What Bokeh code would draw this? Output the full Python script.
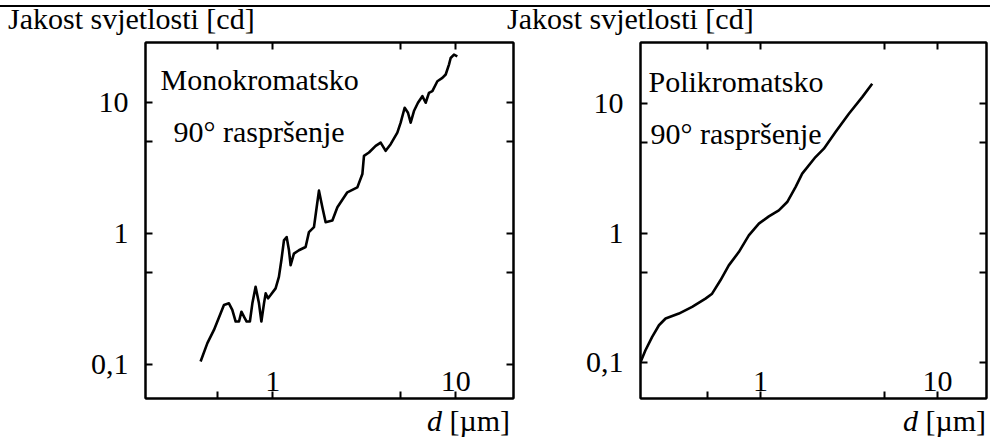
from bokeh.plotting import figure
from bokeh.models import FixedTicker, LogAxis, Label, Div
from bokeh.layouts import row, column
from bokeh.embed import file_html
from bokeh.resources import INLINE

# ---------------- data ----------------
mono_d = [0.404, 0.440, 0.478, 0.520, 0.542, 0.577, 0.602, 0.628, 0.655, 0.675,
          0.697, 0.721, 0.751, 0.775, 0.807, 0.842, 0.868, 0.897, 0.916, 0.943,
          0.975, 1.038, 1.082, 1.116, 1.153, 1.193, 1.228, 1.254, 1.307, 1.392,
          1.514, 1.579, 1.682, 1.740, 1.791, 1.869, 1.948, 2.120, 2.258, 2.559,
          2.903, 3.092, 3.155, 3.360, 3.655, 3.892, 4.145, 4.414, 4.801, 5.006,
          5.264, 5.488, 5.677, 5.917, 6.223, 6.577, 6.857, 7.146, 7.460, 7.943,
          8.460, 8.820, 9.192, 9.391, 9.788, 10.21]
mono_I = [0.105, 0.145, 0.183, 0.245, 0.284, 0.292, 0.260, 0.212, 0.212, 0.252,
          0.231, 0.212, 0.212, 0.292, 0.391, 0.292, 0.212, 0.292, 0.348, 0.319,
          0.338, 0.380, 0.465, 0.623, 0.885, 0.937, 0.743, 0.571, 0.701, 0.743,
          0.787, 1.023, 1.117, 1.585, 2.123, 1.585, 1.219, 1.255, 1.585, 2.061,
          2.249, 2.844, 3.920, 4.152, 4.670, 4.947, 4.278, 4.810, 5.892, 7.022,
          9.130, 8.365, 7.022, 8.616, 9.970, 11.20, 9.970, 11.87, 12.23, 14.57,
          15.44, 16.39, 19.52, 21.92, 23.26, 22.58]

poly_d = [0.210, 0.224, 0.244, 0.267, 0.291, 0.346, 0.411, 0.489, 0.533, 0.594,
          0.662, 0.754, 0.859, 0.979, 1.115, 1.269, 1.415, 1.577, 1.720, 2.045,
          2.280, 2.653, 3.156, 3.753, 4.274]
poly_I = [0.101, 0.125, 0.158, 0.195, 0.220, 0.240, 0.270, 0.313, 0.342, 0.434,
          0.566, 0.717, 0.965, 1.188, 1.353, 1.505, 1.745, 2.278, 2.891, 3.884,
          4.508, 6.056, 8.400, 11.28, 14.32]

y_ticks = [0.1, 0.5, 1, 5, 10]
y_labels = {0.1: "0,1", 0.5: "", 1: "1", 5: "", 10: "10"}
x_ticks = [0.5, 1, 5, 10]
x_tick_labels = ["1", "10"]
x_tick_label_pos = [1, 10]

y_title = "Jakost svjetlosti [cd]"
x_title_html = "<i>d</i> [µm]"
panel_titles = [("Monokromatsko", "90° raspršenje"), ("Polikromatsko", "90° raspršenje")]

FONT = "Liberation Serif"
FS = "30px"


def make_panel(xd, yd, lines, width, height, bl, br, bt, bb, xr, yr, text_x):
    p = figure(width=width, height=height, x_axis_type="log", y_axis_type="log",
               x_range=xr, y_range=yr,
               output_backend="svg", toolbar_location=None,
               min_border_left=bl, min_border_right=br, min_border_top=bt,
               min_border_bottom=bb)
    p.grid.visible = False
    p.outline_line_color = "black"
    p.outline_line_width = 2
    p.background_fill_color = "white"
    p.border_fill_color = "white"

    p.add_layout(LogAxis(), "right")
    p.add_layout(LogAxis(), "above")

    for ax in p.yaxis:
        ax.ticker = FixedTicker(ticks=y_ticks, minor_ticks=[])
    for ax in p.xaxis:
        ax.ticker = FixedTicker(ticks=x_ticks, minor_ticks=[])
    for ax in list(p.xaxis) + list(p.yaxis):
        ax.axis_line_width = 2
        ax.major_tick_in = 7
        ax.major_tick_out = 0
        ax.minor_tick_in = 0
        ax.minor_tick_out = 0
        ax.major_tick_line_width = 2
        ax.major_label_text_font_size = "0px"
        ax.major_label_standoff = 0
        ax.major_label_text_color = None

    ya = p.yaxis[0]
    ya.major_label_overrides = y_labels
    ya.major_label_text_font = FONT
    ya.major_label_text_font_size = FS
    ya.major_label_text_color = "black"
    ya.major_label_standoff = 17

    p.line(xd, yd, line_color="black", line_width=2.6, line_join="round")

    fh = height - bt - bb
    for lab, pos in zip(x_tick_labels, x_tick_label_pos):
        p.add_layout(Label(x=pos, y=17, x_units="data", y_units="screen",
                           text=lab, text_font=FONT, text_font_size=FS,
                           text_align="center", text_baseline="alphabetic",
                           text_color="black"))
    p.add_layout(Label(x=text_x[0], y=fh - 39, x_units="screen", y_units="screen",
                       text=lines[0], text_font=FONT, text_font_size=FS,
                       text_baseline="alphabetic", text_color="black"))
    p.add_layout(Label(x=text_x[1], y=fh - 91, x_units="screen", y_units="screen",
                       text=lines[1], text_font=FONT, text_font_size=FS,
                       text_baseline="alphabetic", text_color="black"))
    return p


FIG_H = 365
p1 = make_panel(mono_d, mono_I, panel_titles[0], 515, FIG_H, 145, 2, 4, 3,
                (0.202, 20.7), (0.0547, 28.8), (15, 28))
p2 = make_panel(poly_d, poly_I, panel_titles[1], 475, FIG_H, 125, 4, 5, 4,
                (0.21, 18.9), (0.053, 29.8), (8, 10))

txt_style = {"font-family": FONT, "font-size": "30px", "color": "black",
             "overflow": "visible", "white-space": "nowrap"}


def tdiv(text, w, h, extra):
    st = dict(txt_style)
    st.update(extra)
    return Div(text=text, width=w, height=h, margin=0, styles=st)


spacer = Div(text="", width=990, height=5, margin=0)
topline = Div(text="", width=990, height=2, margin=0,
              styles={"background-color": "black"})
titles = row(tdiv(y_title, 507, 30, {"line-height": "24px", "padding-left": "8px",
                                     "box-sizing": "border-box"}),
             tdiv(y_title, 483, 30, {"line-height": "24px"}), spacing=0)
xlabels = row(tdiv(x_title_html, 515, 41, {"line-height": "37px", "text-align": "right",
                                           "padding-right": "5px", "box-sizing": "border-box"}),
              tdiv(x_title_html, 475, 41, {"line-height": "37px", "text-align": "right",
                                           "padding-right": "4px", "box-sizing": "border-box"}),
              spacing=0)

layout = column(spacer, topline, titles, row(p1, p2, spacing=0), xlabels, spacing=0)

open("out.html", "w").write(file_html(layout, INLINE))
